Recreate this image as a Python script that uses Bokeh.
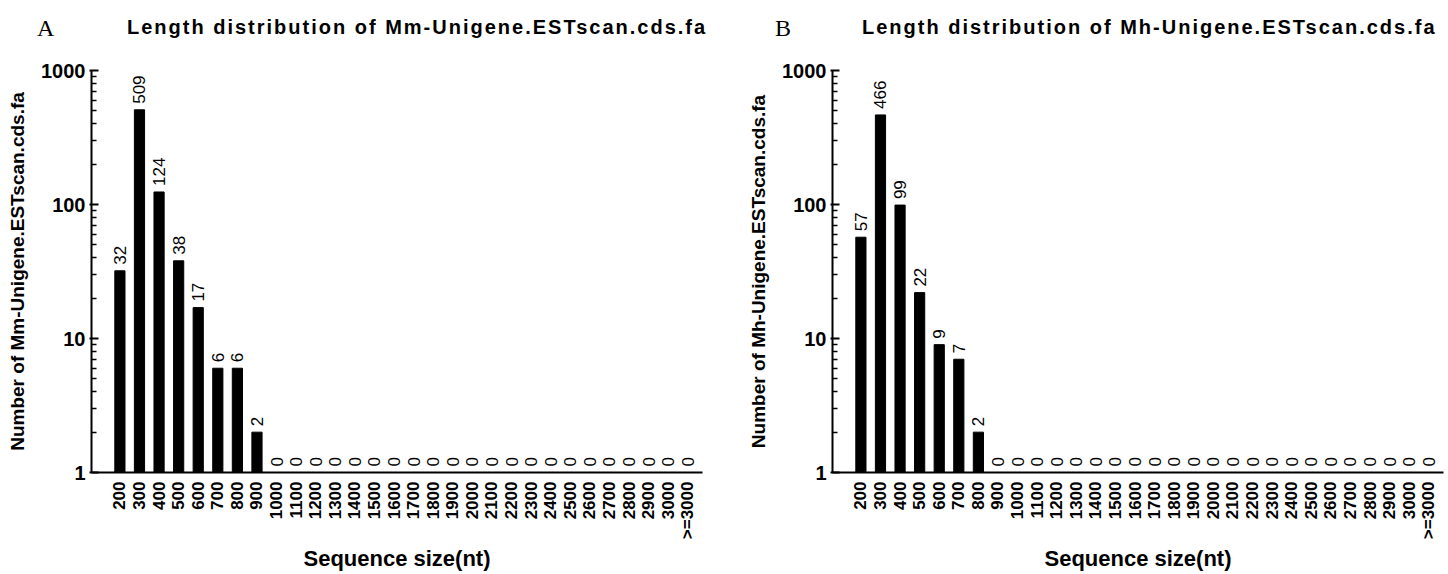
import numpy as np
from bokeh.plotting import figure
from bokeh.models import Range1d, FixedTicker, NumeralTickFormatter, ColumnDataSource, Div
from bokeh.layouts import row, column
from bokeh.embed import file_html
from bokeh.resources import INLINE
from bokeh.core.properties import value

# ---------------- data ----------------
size_labels = ["200", "300", "400", "500", "600", "700", "800", "900", "1000",
               "1100", "1200", "1300", "1400", "1500", "1600", "1700", "1800",
               "1900", "2000", "2100", "2200", "2300", "2400", "2500", "2600",
               "2700", "2800", "2900", "3000", ">=3000"]
mm_counts = [32, 509, 124, 38, 17, 6, 6, 2, 0, 0, 0, 0, 0, 0, 0, 0, 0, 0, 0, 0,
             0, 0, 0, 0, 0, 0, 0, 0, 0, 0]
mh_counts = [57, 466, 99, 22, 9, 7, 2, 0, 0, 0, 0, 0, 0, 0, 0, 0, 0, 0, 0, 0,
             0, 0, 0, 0, 0, 0, 0, 0, 0, 0]
y_major = [1, 10, 100, 1000]
y_minor = [2, 3, 4, 5, 6, 7, 8, 9, 20, 30, 40, 50, 60, 70, 80, 90,
           200, 300, 400, 500, 600, 700, 800, 900]
panel_letters = ["A", "B"]
panel_names = ["Mm-Unigene.ESTscan.cds.fa", "Mh-Unigene.ESTscan.cds.fa"]
panel_counts = [mm_counts, mh_counts]

FONT = "Liberation Sans"
HEADER_H = 50


def make_header(letter, name, letter_left, title_left):
    html = (
        '<div style="position:relative;width:724px;height:%dpx;margin:0;padding:0;">'
        '<span style="position:absolute;left:%dpx;top:11px;'
        "font-family:'Liberation Serif';font-size:24px;color:black;\">%s</span>"
        '<span style="position:absolute;left:%dpx;top:13px;'
        "font-family:'Liberation Sans';font-weight:bold;font-size:20px;"
        'letter-spacing:2px;color:black;white-space:nowrap;">'
        'Length distribution of %s</span></div>'
    ) % (HEADER_H, letter_left, letter, title_left, name)
    return Div(text=html, width=724, height=HEADER_H, margin=(0, 0, 0, 0))


def make_panel(name, counts, border_left, border_right):
    idx = list(range(len(size_labels)))
    p = figure(width=724, height=574 - HEADER_H, y_axis_type="log",
               x_range=Range1d(-1.45, 29.75), y_range=Range1d(1, 1000),
               output_backend="svg", toolbar_location=None,
               min_border_left=border_left, min_border_right=border_right,
               min_border_top=70 - HEADER_H, min_border_bottom=102,
               margin=(0, 0, 0, 0))
    p.outline_line_color = None
    p.grid.visible = False
    p.background_fill_color = "white"
    p.border_fill_color = "white"

    pos = [(i, c) for i, c in zip(idx, counts) if c > 0]
    bars = ColumnDataSource(dict(x=[i for i, _ in pos], top=[c for _, c in pos]))
    p.vbar(x="x", top="top", bottom=1, width=0.52, source=bars,
           fill_color="black", line_color="black")

    labels = ColumnDataSource(dict(x=idx, y=[max(c, 1) for c in counts],
                                   t=[str(c) for c in counts]))
    p.text(x="x", y="y", text="t", source=labels, angle=np.pi / 2,
           text_align="left", text_baseline="middle", y_offset=-6,
           text_font=value(FONT), text_font_size="17px", text_color="black")

    # x axis
    xa = p.xaxis[0]
    xa.ticker = FixedTicker(ticks=idx)
    xa.major_label_overrides = {i: s for i, s in zip(idx, size_labels)}
    xa.major_label_orientation = np.pi / 2
    xa.major_tick_line_color = None
    xa.minor_tick_line_color = None
    xa.major_tick_out = 0
    xa.major_tick_in = 0
    xa.axis_line_width = 2
    xa.axis_line_color = "black"
    xa.major_label_standoff = 9
    xa.major_label_text_font = FONT
    xa.major_label_text_font_style = "bold"
    xa.major_label_text_font_size = "17px"
    xa.major_label_text_color = "black"
    xa.axis_label = "Sequence size(nt)"
    xa.axis_label_text_font = FONT
    xa.axis_label_text_font_style = "bold"
    xa.axis_label_text_font_size = "22px"
    xa.axis_label_text_color = "black"
    xa.axis_label_standoff = 4

    # y axis
    ya = p.yaxis[0]
    ya.ticker = FixedTicker(ticks=y_major, minor_ticks=y_minor)
    ya.formatter = NumeralTickFormatter(format="0")
    ya.axis_line_width = 2
    ya.axis_line_color = "black"
    ya.major_tick_line_width = 2
    ya.minor_tick_line_width = 1.5
    ya.major_tick_in = 7
    ya.major_tick_out = 2
    ya.minor_tick_in = 5
    ya.minor_tick_out = 0
    ya.major_label_standoff = 4
    ya.major_label_text_font = FONT
    ya.major_label_text_font_style = "bold"
    ya.major_label_text_font_size = "20px"
    ya.major_label_text_color = "black"
    ya.axis_label = "Number of " + name
    ya.axis_label_text_font = FONT
    ya.axis_label_text_font_style = "bold"
    ya.axis_label_text_font_size = "19px"
    ya.axis_label_text_color = "black"
    ya.axis_label_standoff = 10
    return p


hA = make_header(panel_letters[0], panel_names[0], 37, 127)
hB = make_header(panel_letters[1], panel_names[1], 51, 138)
pA = make_panel(panel_names[0], panel_counts[0], 91, 22)
pB = make_panel(panel_names[1], panel_counts[1], 108, 5)

layout = column(row(hA, hB, spacing=0), row(pA, pB, spacing=0), spacing=0)
open("out.html", "w").write(file_html(layout, INLINE))
